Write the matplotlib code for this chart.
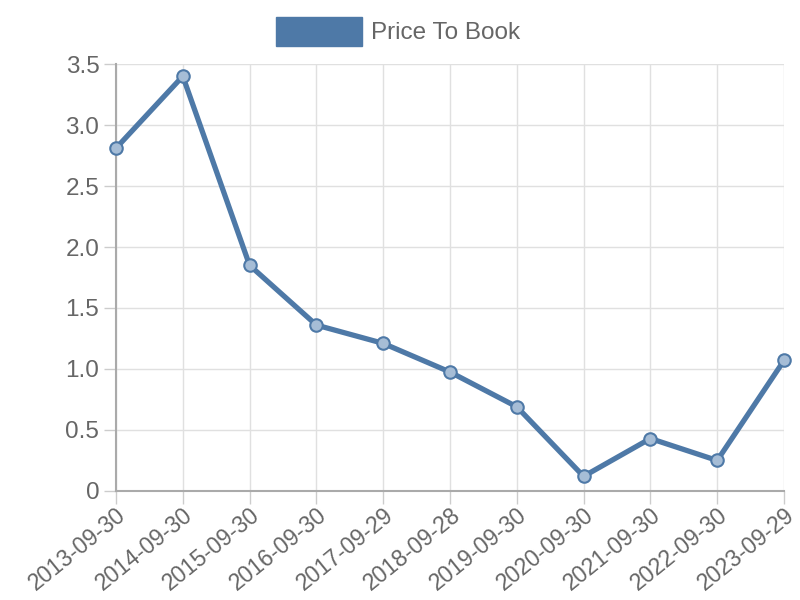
import matplotlib.pyplot as plt
from matplotlib.patches import Rectangle
from matplotlib.transforms import ScaledTranslation

dates = ['2013-09-30', '2014-09-30', '2015-09-30', '2016-09-30', '2017-09-29',
         '2018-09-28', '2019-09-30', '2020-09-30', '2021-09-30', '2022-09-30',
         '2023-09-29']
price_to_book = [2.81, 3.40, 1.85, 1.36, 1.21, 0.975, 0.69, 0.12, 0.43, 0.25, 1.07]
yticks = [0, 0.5, 1.0, 1.5, 2.0, 2.5, 3.0, 3.5]
ytick_labels = ['0', '0.5', '1.0', '1.5', '2.0', '2.5', '3.0', '3.5']

line_color = '#4e79a7'
text_color = '#666666'

plt.rcParams['font.family'] = ['Liberation Sans', 'DejaVu Sans']

fig = plt.figure(figsize=(8, 6), dpi=100)
ax = fig.add_axes([0.145, 0.1817, 0.835, 0.7116])

x = list(range(len(dates)))
ax.plot(x, price_to_book, color=line_color, linewidth=3.8, zorder=3,
        marker='o', markersize=9, markerfacecolor=(0.65, 0.74, 0.84, 1),
        markeredgecolor=line_color, markeredgewidth=1.5, solid_joinstyle='miter',
        clip_on=False)

ax.set_xlim(0, len(dates) - 1)
ax.set_ylim(0, 3.5)
ax.set_xticks(x)
ax.set_xticklabels(dates, rotation=39, ha='right', rotation_mode='anchor',
                   fontsize=16.5)
ax.set_yticks(yticks)
ax.set_yticklabels(ytick_labels, fontsize=17.5)

# nudge x labels slightly left
offset = ScaledTranslation(-5 / 100, 0, fig.dpi_scale_trans)
for lbl in ax.get_xticklabels():
    lbl.set_transform(lbl.get_transform() + offset)

ax.grid(True, color='#e0e0e0', linewidth=1)
ax.set_axisbelow(True)
for side in ['top', 'right']:
    ax.spines[side].set_visible(False)
for side in ['left', 'bottom']:
    ax.spines[side].set_color('#aaaaaa')
    ax.spines[side].set_linewidth(1.5)
ax.tick_params(axis='both', colors='#cccccc', labelcolor=text_color,
               length=9, width=1)
ax.tick_params(axis='y', pad=3)
ax.tick_params(axis='x', pad=0)

# legend
fig.patches.append(Rectangle((276 / 800, 1 - 46 / 600), 86 / 800, 29 / 600,
                             transform=fig.transFigure, color=line_color))
fig.text(371 / 800, 1 - 33 / 600, 'Price To Book', color=text_color,
         fontsize=17.5, va='center', ha='left')

fig.savefig('out.png', dpi=100)
